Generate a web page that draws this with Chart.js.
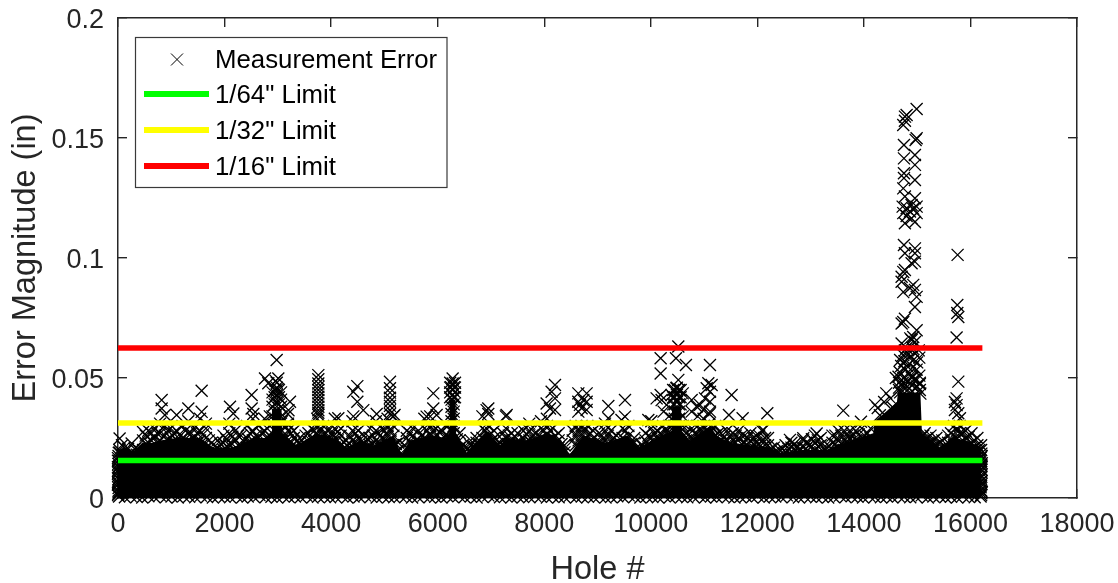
<!DOCTYPE html>
<html>
<head>
<meta charset="utf-8">
<title>Measurement Error</title>
<script src="https://cdn.jsdelivr.net/npm/chart.js@4/dist/chart.umd.min.js"></script>
<style>
  html, body { margin: 0; padding: 0; background: #fff; }
  canvas { display: block; }
</style>
</head>
<body>
<canvas id="errorChart" width="1118" height="583"></canvas>
<script>
const xTicks = [0, 2000, 4000, 6000, 8000, 10000, 12000, 14000, 16000, 18000];
const yTicks = [0, 0.05, 0.1, 0.15, 0.2];

// limits in inches
const limit64 = 1 / 64;
const limit32 = 1 / 32;
const limit16 = 1 / 16;
const limitStart = 0;
const limitEnd = 16224;

// top of the overplotted solid mass of markers
const massHoles = [0, 150, 288, 480, 640, 790, 1100, 1540, 1790, 2160, 2540, 2790, 2880, 2890, 3070, 3080, 3350, 3730, 4040, 4290, 4540, 4790, 5170, 5320, 5480, 5850, 6170, 6215, 6225, 6335, 6345, 6400, 6540, 6920, 7170, 7290, 7670, 8040, 8200, 8360, 8480, 8730, 9170, 9550, 9770, 10110, 10390, 10400, 10570, 10580, 10735, 11110, 11236, 11486, 11860, 12237, 12425, 12860, 13300, 13490, 14176, 14200, 14420, 14620, 14640, 15060, 15090, 15427, 15678, 15928, 16200];
const massTops = [0.02, 0.021, 0.0195, 0.023, 0.023, 0.024, 0.025, 0.025, 0.021, 0.021, 0.025, 0.025, 0.027, 0.037, 0.037, 0.027, 0.022, 0.027, 0.025, 0.021, 0.024, 0.022, 0.026, 0.018, 0.024, 0.026, 0.025, 0.027, 0.041, 0.041, 0.027, 0.025, 0.019, 0.028, 0.022, 0.025, 0.024, 0.027, 0.026, 0.022, 0.018, 0.026, 0.023, 0.026, 0.021, 0.025, 0.028, 0.038, 0.038, 0.028, 0.024, 0.03, 0.026, 0.023, 0.022, 0.021, 0.019, 0.02, 0.02, 0.022, 0.027, 0.032, 0.036, 0.04, 0.044, 0.044, 0.027, 0.021, 0.025, 0.024, 0.021];

// hatched fringe above the mass: [hole, error, error, ...]
const fringeWest = [[30,.019,.0248],[120,.018,.021],[256,.019,.0227],[360,.018,.0205],[470,.02,.024,.0275],[570,.019,.023,.028],[680,.021,.025,.029],[790,.02,.024,.027,.031],[880,.019,.022,.026,.03],[990,.021,.025,.029],[1100,.02,.024,.028],[1210,.021,.025,.03],[1320,.02,.023,.027,.032],[1430,.021,.025,.029],[1540,.02,.024,.028,.033],[1650,.021,.025,.029,.031],[1760,.019,.023],[1870,.018,.021,.024],[1980,.02,.023,.026],[2090,.019,.022,.027,.031],[2200,.02,.024,.028],[2310,.019,.022,.026],[2420,.021,.025,.03],[2530,.02,.024,.028,.033],[2640,.021,.025,.03],[2750,.019,.024,.028,.033],[2850,.022,.026,.03,.034],[3080,.024,.028,.032],[3190,.024,.028,.031,.035],[3300,.021,.025,.028],[3410,.02,.023,.025],[3520,.019,.022,.026],[3630,.021,.025,.029],[3740,.022,.026,.03,.033],[3850,.022,.026,.03],[3960,.021,.025,.029],[4070,.021,.025,.029,.033],[4180,.022,.026,.029],[4290,.019,.022,.024],[4400,.02,.024,.028,.032],[4510,.021,.025,.028],[4620,.02,.023,.026],[4730,.019,.022,.025,.029],[4840,.02,.024,.028,.032],[4950,.021,.025,.029]];
const fringeMid = [[5060,.022,.026,.03,.033],[5170,.022,.026,.03,.034],[5260,.02,.023],[5330,.018],[5420,.021,.025,.028],[5530,.022,.026,.029],[5640,.02,.024,.028],[5750,.021,.025,.029,.033],[5860,.022,.026,.03,.034],[5970,.022,.026,.029],[6080,.021,.024,.028],[6190,.022,.026,.03],[6300,.022,.027,.03],[6410,.021,.024,.027],[6530,.018,.021],[6620,.019,.022,.024],[6730,.02,.023,.025],[6840,.021,.025,.029,.034],[6950,.022,.026,.03,.035],[7060,.021,.025,.028],[7170,.02,.023],[7280,.021,.025,.029,.034],[7390,.02,.024,.027],[7500,.02,.023,.027],[7610,.021,.025,.028],[7720,.021,.024,.028,.031],[7830,.02,.024,.027],[7940,.021,.025,.029,.032],[8050,.022,.026,.03,.033],[8160,.021,.025,.029],[8270,.021,.024,.027],[8380,.019,.022],[8480,.018],[8590,.022,.026,.03],[8700,.022,.026,.03],[8810,.022,.026,.03],[8920,.021,.025,.028],[9030,.02,.023,.027],[9140,.021,.024,.028,.031],[9250,.02,.024,.028],[9360,.02,.023,.026],[9470,.021,.025,.029],[9580,.022,.026,.03],[9690,.02,.023,.025],[9790,.019,.021],[9900,.02,.024,.027],[10010,.021,.025,.029,.032],[10120,.021,.025,.028],[10230,.022,.026,.03]];
const fringeEast = [[10340,.022,.026,.03,.034],[10660,.021,.024,.027,.03],[10770,.021,.025,.029],[10880,.022,.026,.03,.034],[10990,.022,.026,.03,.033],[11100,.023,.027,.031,.035],[11210,.022,.026,.03],[11320,.02,.024,.027],[11430,.021,.024,.028],[11540,.02,.024,.027],[11650,.021,.025,.028],[11760,.02,.023,.026],[11870,.02,.024,.027],[11980,.02,.023,.026],[12090,.021,.024,.028],[12200,.019,.022,.025],[12310,.019,.021],[12420,.018,.02],[12530,.019,.022],[12640,.018,.021,.023],[12750,.019,.021],[12860,.018,.021,.024],[12970,.019,.022],[13080,.02,.023,.026],[13190,.019,.022,.025],[13300,.019,.021],[13410,.02,.023,.026],[13520,.021,.024,.028],[13630,.02,.024,.028],[13740,.021,.025,.028],[13850,.021,.024,.028],[13960,.021,.025,.029],[14070,.021,.024,.027],[15140,.021,.024,.027],[15250,.02,.023,.026],[15360,.019,.022,.025],[15470,.018,.021,.024],[15580,.02,.023,.026],[15690,.022,.026,.03],[15800,.023,.027,.03],[15910,.021,.025,.028],[16020,.02,.023,.027],[16130,.019,.022,.025],[16200,.017,.02,.022]];

// second pass of fringe markers, lying between the columns above
const fringeInner = [[75,.022],[190,.0205],[310,.0205],[415,.0195],[520,.0225,.026],[625,.024,.027],[735,.023,.027],[835,.0225,.029],[935,.024,.028],[1045,.023,.027],[1155,.023,.0265],[1265,.023,.028],[1375,.0225,.027],[1485,.023,.027],[1595,.0225,.0265],[1705,.024],[1815,.0215],[1925,.0225],[2035,.0215,.0245],[2145,.0225,.0255],[2255,.022,.026],[2365,.0235],[2475,.023,.027],[2585,.0225,.026],[2695,.023,.027],[2800,.0255,.029],[3135,.026,.03],[3245,.023,.027],[3355,.0235],[3465,.0215],[3575,.0235,.027],[3685,.0235,.028],[3795,.024,.028],[3905,.0235,.027],[4015,.023,.027],[4125,.024,.0275],[4235,.0235],[4345,.0225,.026],[4455,.023,.027],[4565,.0235],[4675,.0215,.0245],[4785,.0225,.026],[4895,.023,.027],[5005,.024,.028],[5115,.024,.028],[5215,.0225],[5375,.022],[5475,.0235,.027],[5585,.024],[5695,.0225,.026],[5805,.024,.028],[5915,.024,.028],[6025,.0235,.0275],[6135,.023,.026],[6245,.024,.028],[6360,.0245],[6470,.022],[6575,.0205],[6675,.0215],[6785,.0225],[6895,.024,.028],[7005,.0235,.027],[7115,.0225],[7225,.024,.027],[7335,.0225,.026],[7445,.0225,.0255],[7555,.023],[7665,.023,.0265],[7775,.0225,.026],[7885,.023,.0265],[7995,.024,.028],[8105,.024,.028],[8215,.023,.026],[8325,.0225],[8535,.024,.028],[8645,.024,.028],[8755,.024,.028],[8865,.0235,.027],[8975,.0225],[9085,.0225,.026],[9195,.0225,.026],[9305,.022,.025],[9415,.023],[9525,.024,.028],[9635,.0225],[9845,.022],[9955,.0225,.026],[10065,.023,.027],[10175,.0235,.027],[10285,.024,.028],[10395,.03,.033],[10600,.03,.034],[10715,.023,.0265],[10825,.024,.027],[10935,.024,.028],[11045,.0245,.028],[11155,.025,.029],[11265,.023,.027],[11375,.0225,.0255],[11485,.0225,.026],[11595,.023,.026],[11705,.0225,.026],[11815,.022,.025],[11925,.0225,.025],[12035,.0225,.026],[12145,.022,.025],[12255,.0205],[12365,.0195],[12475,.0205],[12585,.0205],[12695,.0205,.0225],[12805,.0205],[12915,.0205,.023],[13025,.0215,.0245],[13135,.0215,.024],[13245,.021],[13355,.0215],[13465,.0225,.026],[13575,.0225,.026],[13685,.023,.026],[13795,.023,.026],[13905,.023,.0265],[14015,.023,.026],[14125,.025,.029],[15115,.023,.026],[15195,.0225,.025],[15305,.0215,.024],[15415,.0205,.023],[15525,.0215],[15635,.024,.027],[15745,.025,.028],[15855,.024,.027],[15965,.022,.0255],[16075,.021,.024],[16165,.02]];

// tall narrow columns that overplot almost solid
const denseColumns = [[2900,.031,.034,.038,.041,.044],[2940,.036,.039,.042,.045],[2980,.04,.043,.046,.048],[3020,.036,.039,.042,.045],[3060,.031,.034,.038,.041,.044],[3760,.0495,.0463,.0436,.0408,.038,.0355],[5105,.0439,.0418,.0384,.035],[6235,.042,.044,.046,.048],[6260,.032,.035,.038,.041],[6281,.043,.045],[6300,.033,.036,.039,.042],[6325,.042,.044,.046,.048],[10420,.039,.042,.045],[10450,.03,.033,.036,.039,.042,.045],[10490,.04,.043,.046],[10530,.03,.033,.036,.039,.042,.045],[10560,.039,.042,.045],[14660,.045,.048],[14740,.046,.05],[14820,.045,.049],[14900,.047,.05],[14980,.046,.049],[15050,.045,.048]];

// separately readable markers: [hole, error]
const spikesWest = [[819,.0408],[819,.0373],[880,.0346],[1320,.0373],[1100,.0346],[1570,.0447],[1570,.0359],[2102,.038],[2164,.0352],[2508,.0429],[2508,.0373],[2540,.035],[2759,.0498],[2821,.0478],[2978,.0575],[3009,.0498],[2960,.0488],[2978,.045],[3228,.0401],[3200,.0366],[3760,.0512],[3760,.0477],[3760,.045],[3760,.0422],[3760,.0394],[3760,.0366],[3760,.0346],[4135,.0332],[4417,.0443],[4492,.0466],[4492,.0401],[4604,.0366],[4855,.035],[4417,.034],[5105,.0484],[5105,.0457],[5105,.0401],[5105,.0366],[5190,.0346],[5918,.0436],[5918,.0373],[5793,.0339],[5980,.0346],[6281,.0498],[6281,.0477],[6250,.0462],[6310,.0462],[6919,.0366],[6950,.0373],[7294,.0346]];
const spikesMid = [[8045,.0394],[8108,.0373],[8202,.0471],[8202,.0415],[8202,.0367],[8139,.0443],[8640,.0436],[8796,.0436],[8640,.0401],[8796,.0401],[8702,.0374],[8640,.036],[8796,.0367],[8733,.0408],[8670,.0388],[9203,.0383],[9516,.0408],[9203,.0332],[9516,.0339],[9450,.0325],[9954,.0325],[10185,.0582],[10185,.0519],[10185,.0429],[10204,.0408],[10298,.0388],[10110,.0415],[10240,.036],[10517,.0631],[10473,.0582],[10660,.0554],[10517,.0492],[10480,.0457],[10390,.0429],[10600,.0436],[10767,.0408],[10860,.0381],[10767,.036],[11111,.0554],[11080,.0478],[11142,.0471],[11050,.0457],[11111,.0443],[11017,.0415],[11111,.0401],[10985,.0367],[11111,.036],[10925,.0388]];
const spikesEast = [[11517,.0429],[11467,.0346],[11724,.0332],[12187,.0353],[12112,.0283],[13613,.0364],[13945,.0318],[13113,.0269],[12612,.0242],[12862,.0249],[14300,.0345],[14210,.0388],[14260,.0375],[14420,.0436],[14380,.04],[14500,.0415],[14540,.0378],[14600,.05],[14660,.046]];
const spikeMain = [[14990,.1621],[14771,.1589],[14802,.1596],[14739,.1554],[14770,.1572],[14971,.1492],[14990,.1499],[14752,.1471],[14958,.1429],[14752,.1415],[14958,.1388],[14752,.1353],[14958,.1325],[14752,.1333],[14739,.129],[14770,.1256],[14958,.1249],[14727,.1214],[14802,.1207],[14895,.1221],[14990,.1214],[14739,.1187],[14864,.1194],[14990,.1187],[14770,.1145],[14958,.115],[14895,.1165],[14802,.1175],[14926,.1205],[14752,.1054],[14958,.104],[14770,.102],[14958,.102],[14958,.0985],[14895,.0978],[14739,.0942],[14708,.0922],[14770,.095],[14708,.0901],[14739,.0858],[14926,.0888],[14958,.0867],[14864,.0875],[14990,.0838],[14958,.0796],[14739,.0733],[14708,.0727],[14770,.0747],[14926,.0671],[14990,.0699],[14958,.065],[14895,.0658],[14708,.0644],[14739,.0596],[14958,.0603],[14800,.0625],[14850,.0585],[15000,.0565],[14920,.0545],[14700,.055],[14780,.0535],[14860,.052],[15040,.051],[14950,.0495],[14650,.0505],[14730,.048],[14820,.0465],[15000,.0465],[14900,.0445],[15060,.0435],[14680,.044],[14770,.0615],[14840,.06],[14910,.0625],[15030,.0615],[14680,.0575],[14870,.0665],[14930,.0575],[15040,.0585],[14760,.057],[14810,.055],[14990,.0535],[14670,.0525],[14900,.0505],[15050,.0475]];
const spikeSide = [[15759,.1013],[15753,.0804],[15753,.0771],[15772,.0754],[15740,.0669],[15772,.0485],[15740,.0415],[15740,.0387],[15709,.0367],[15772,.0353],[15709,.04],[15803,.0332]];

// lower edge of the band, markers sticking out under the axis line
const baseHoles = [20,130,235,350,455,570,680,785,900,1005,1120,1230,1335,1450,1555,1670,1780,1885,2000,2105,2220,2330,2435,2550,2655,2770,2880,2985,3100,3205,3320,3430,3535,3650,3755,3870,3980,4085,4200,4305,4420,4530,4635,4750,4855,4970,5080,5185,5300,5405,5520,5630,5735,5850,5955,6070,6180,6285,6400,6505,6620,6730,6835,6950,7055,7170,7280,7385,7500,7605,7720,7830,7935,8050,8155,8270,8380,8485,8600,8705,8820,8930,9035,9150,9255,9370,9480,9585,9700,9805,9920,10030,10135,10250,10355,10470,10580,10685,10800,10905,11020,11130,11235,11350,11455,11570,11680,11785,11900,12005,12120,12230,12335,12450,12555,12670,12780,12885,13000,13105,13220,13330,13435,13550,13655,13770,13880,13985,14100,14205,14320,14430,14535,14650,14755,14870,14980,15085,15200,15305,15420,15530,15635,15750,15855,15970,16080,16190];
const baseErrors = [.0006,.0003,.0009,.0004,.0002,.0007,.0004,.0011,.0003,.0006,.0002,.0008,.0005,.0003,.001,.0004,.0002,.0007,.0005,.0003,.0009,.0002,.0006,.0004,.0012,.0003,.0005,.0002,.0008,.0004,.0006,.0003,.001,.0002,.0005,.0007,.0003,.0004,.0009,.0002,.0006,.0003,.0011,.0005,.0002,.0007,.0004,.0003,.0008,.0006,.0002,.0004,.001,.0003,.0005,.0002,.0007,.0004,.0009,.0003,.0006,.0002,.0005,.0011,.0004,.0003,.0008,.0002,.0006,.0004,.0003,.0009,.0005,.0002,.0007,.0003,.0004,.001,.0002,.0006,.0005,.0003,.0008,.0002,.0004,.0007,.0003,.0011,.0005,.0002,.0006,.0004,.0003,.0009,.0002,.0007,.0005,.0003,.0004,.001,.0002,.0006,.0003,.0008,.0005,.0002,.0004,.0007,.0003,.0009,.0002,.0005,.0006,.0003,.0011,.0004,.0002,.0008,.0005,.0003,.0006,.0002,.0004,.001,.0003,.0007,.0005,.0002,.0009,.0004,.0003,.0006,.0002,.0008,.0005,.0003,.0004,.0011,.0002,.0006,.0007,.0003,.0005,.0002,.0009,.0004,.0003,.0006];

// markers on the left and right ends of the band
const endHoles = [10,0,15,5,20,0,10,25,5,12,0,8,3,7,0,14,2,9,0,6,4,11,16205,16190,16210,16200,16195,16212,16185,16205,16198,16208,16192,16202,16206,16196,16211,16201,16193,16209,16204,16199,16213,16188];
const endErrors = [.003,.0055,.008,.0105,.013,.0155,.0175,.02,.0018,.0042,.0068,.0118,.0092,.0142,.0166,.0188,.0012,.0078,.0128,.0062,.0112,.0024,.002,.0045,.007,.0095,.012,.0145,.0165,.0185,.0032,.0058,.0082,.0108,.0132,.0155,.0175,.0012,.0068,.0118,.0088,.0138,.0026,.0052];

const measurementPoints = [
  ...[...fringeWest, ...fringeMid, ...fringeEast, ...fringeInner, ...denseColumns].flatMap(([hole, ...errors]) => errors.map((e) => ({ x: hole, y: e }))),
  ...[...spikesWest, ...spikesMid, ...spikesEast, ...spikeMain, ...spikeSide].map(([x, y]) => ({ x, y })),
  ...baseHoles.map((x, i) => ({ x, y: baseErrors[i] })),
  ...endHoles.map((x, i) => ({ x, y: endErrors[i] })),
];

const INK = "#262626";
const FONT = "'Liberation Sans', Arial, sans-serif";

function limitLine(label, value, color, order) {
  return {
    type: "line",
    label: label,
    data: [{ x: limitStart, y: value }, { x: limitEnd, y: value }],
    borderColor: color,
    borderWidth: 5.5,
    pointRadius: 0,
    borderCapStyle: "butt",
    order: order,
  };
}

// the built-in legend cannot sit inside the axes, so it is drawn here
const insideLegend = {
  id: "insideLegend",
  afterDraw(chart) {
    const ctx = chart.ctx;
    const items = chart.data.datasets.filter((d) => d.label).reverse();
    ctx.save();
    ctx.fillStyle = "#fff";
    ctx.strokeStyle = "#3a3a3a";
    ctx.lineWidth = 1.2;
    ctx.fillRect(135.5, 37.5, 311.5, 150);
    ctx.strokeRect(135.5, 37.5, 311.5, 150);
    ctx.font = "25.8px " + FONT;
    ctx.textBaseline = "middle";
    ctx.textAlign = "left";
    ctx.fillStyle = "#000";
    const rows = [61, 96, 132, 168];
    items.forEach((d, i) => {
      const y = rows[i];
      if (d.type === "scatter") {
        ctx.strokeStyle = "#000";
        ctx.lineWidth = 1;
        ctx.beginPath();
        ctx.moveTo(171, y - 7.5);
        ctx.lineTo(183, y + 4.5);
        ctx.moveTo(183, y - 7.5);
        ctx.lineTo(171, y + 4.5);
        ctx.stroke();
      } else {
        ctx.fillStyle = d.borderColor;
        ctx.fillRect(144, y - 5, 65, 6);
        ctx.fillStyle = "#000";
      }
      ctx.fillText(d.label, 215, y);
    });
    ctx.restore();
  },
};

function innerGrid() {
  return { drawOnChartArea: false, tickLength: -9, tickColor: INK, tickWidth: 1.4, lineWidth: 1.4, color: INK };
}
const axisBorder = { color: INK, width: 1.5 };

// fixed box sizes, and no room kept for half labels at the axis ends
function fixBox(scale, size) {
  if (scale.isHorizontal()) scale.height = size;
  else scale.width = size;
  scale.paddingTop = scale.paddingBottom = scale.paddingLeft = scale.paddingRight = 0;
}

new Chart(document.getElementById("errorChart"), {
  type: "scatter",
  data: {
    datasets: [
      limitLine('1/16" Limit', limit16, "#ff0000", 1),
      limitLine('1/32" Limit', limit32, "#ffff00", 2),
      limitLine('1/64" Limit', limit64, "#00ff00", 3),
      {
        type: "scatter",
        label: "Measurement Error",
        data: measurementPoints,
        pointStyle: "crossRot",
        pointRadius: 8.5,
        pointBorderWidth: 1.3,
        borderColor: "#000",
        backgroundColor: "#000",
        showLine: false,
        clip: false,
        order: 4,
      },
      {
        type: "line",
        data: massHoles.map((x, i) => ({ x, y: massTops[i] })),
        borderColor: "#000",
        borderWidth: 0,
        backgroundColor: "#000",
        pointRadius: 0,
        fill: "origin",
        order: 5,
      },
    ],
  },
  options: {
    responsive: false,
    animation: false,
    events: [],
    layout: { autoPadding: false, padding: { top: 18, right: 41, left: 0, bottom: 0 } },
    plugins: { legend: { display: false }, tooltip: { enabled: false } },
    scales: {
      x: {
        type: "linear",
        position: "bottom",
        min: 0,
        max: 18000,
        afterBuildTicks: (s) => { s.ticks = xTicks.map((value) => ({ value })); },
        afterFit: (s) => fixBox(s, 85),
        ticks: { color: INK, font: { family: FONT, size: 27 }, padding: 19, maxRotation: 0, autoSkip: false, callback: (v) => String(v) },
        grid: innerGrid(),
        border: axisBorder,
        title: { display: true, text: "Hole #", color: INK, font: { family: FONT, size: 32.5 }, padding: { top: 0, bottom: -7 } },
      },
      y: {
        type: "linear",
        position: "left",
        min: 0,
        max: 0.2,
        afterBuildTicks: (s) => { s.ticks = yTicks.map((value) => ({ value })); },
        afterFit: (s) => fixBox(s, 118),
        ticks: { color: INK, font: { family: FONT, size: 27 }, padding: 23, labelOffset: 3, autoSkip: false, callback: (v) => String(v) },
        grid: innerGrid(),
        border: axisBorder,
        title: { display: true, text: "Error Magnitude (in)", color: INK, font: { family: FONT, size: 32.5 }, padding: { top: 7, bottom: 0 } },
      },
      xTop: {
        type: "linear",
        axis: "x",
        position: "top",
        min: 0,
        max: 18000,
        afterBuildTicks: (s) => { s.ticks = xTicks.map((value) => ({ value })); },
        afterFit: (s) => fixBox(s, 0),
        ticks: { display: false },
        grid: innerGrid(),
        border: axisBorder,
      },
      yRight: {
        type: "linear",
        axis: "y",
        position: "right",
        min: 0,
        max: 0.2,
        afterBuildTicks: (s) => { s.ticks = yTicks.map((value) => ({ value })); },
        afterFit: (s) => fixBox(s, 0),
        ticks: { display: false },
        grid: innerGrid(),
        border: axisBorder,
      },
    },
  },
  plugins: [insideLegend],
});
</script>
</body>
</html>
